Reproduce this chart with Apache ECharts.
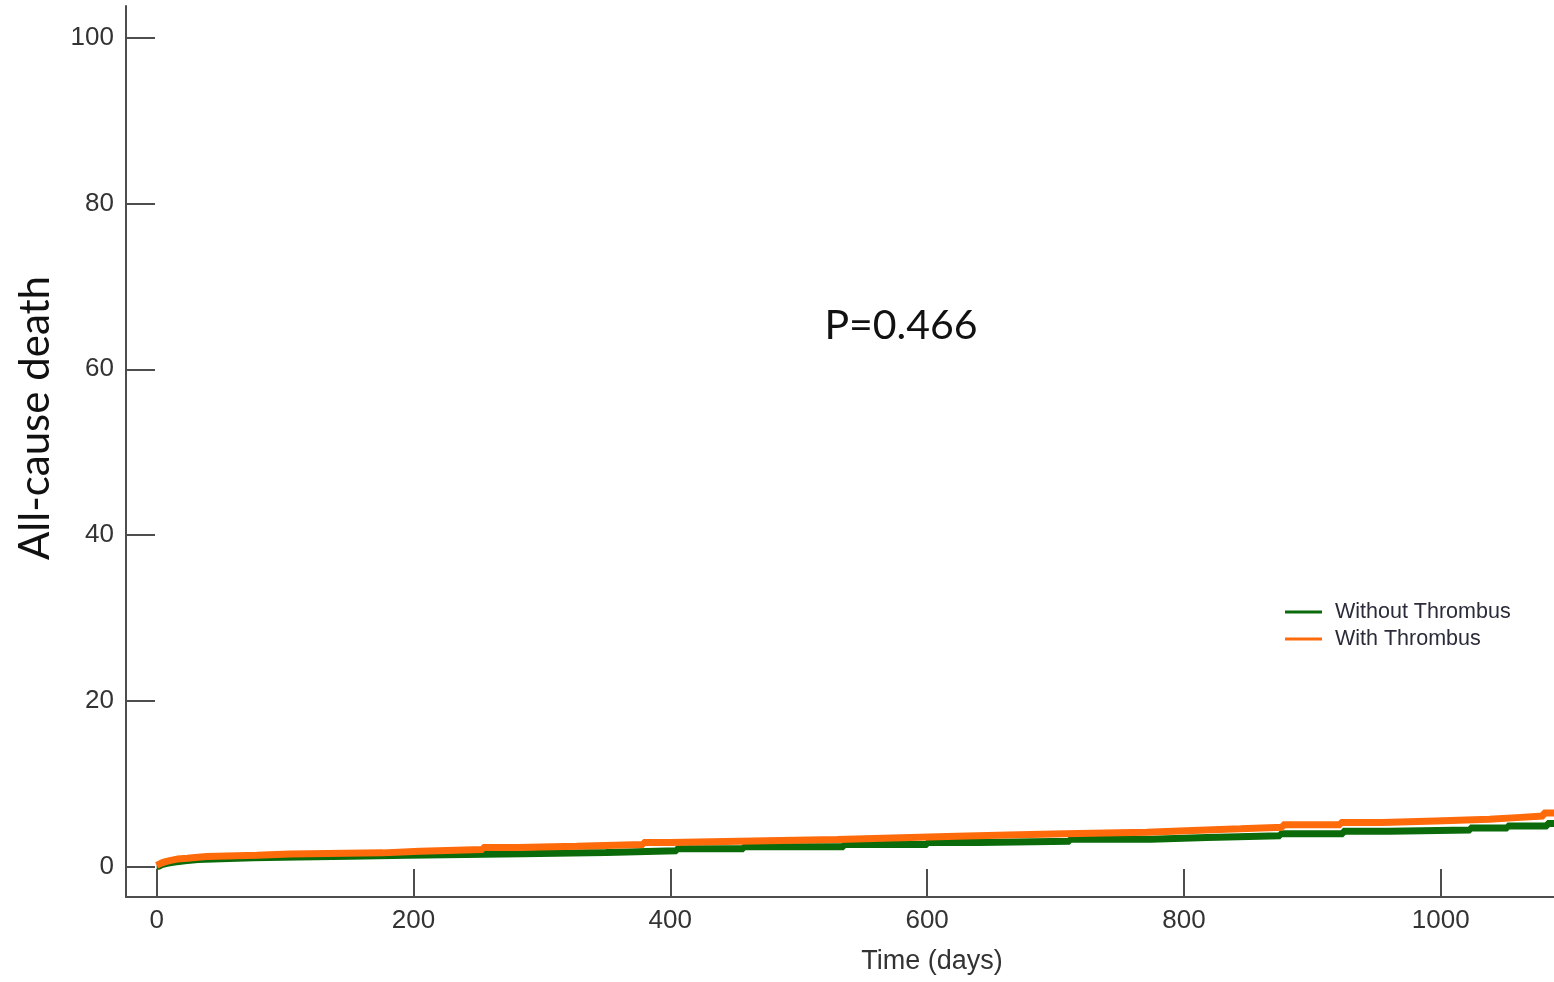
<!DOCTYPE html>
<html>
<head>
<meta charset="utf-8">
<script src="https://cdn.jsdelivr.net/npm/echarts@6/dist/echarts.min.js"></script>
<style>
  html, body { margin: 0; padding: 0; background: #fff; }
  #chart { width: 1554px; height: 982px; }
</style>
</head>
<body>
<div id="chart"></div>
<script>
// Cumulative all-cause death (%) over follow-up, by thrombus status
const seriesNames = ['Without Thrombus', 'With Thrombus'];

const withoutDays = [0, 2, 4, 8, 14, 22, 32, 50, 75, 110, 150, 195, 240, 285, 350, 405, 457, 535, 600, 640, 711, 774, 818, 875, 924, 960, 1023, 1052, 1083, 1090];
const withoutValues = [0.1, 0.3, 0.45, 0.6, 0.75, 0.9, 1.0, 1.1, 1.2, 1.3, 1.4, 1.5, 1.6, 1.75, 1.95, 2.2, 2.45, 2.7, 2.95, 3.1, 3.35, 3.55, 3.75, 4.0, 4.3, 4.45, 4.7, 4.95, 5.25, 5.25];

const withDays = [0, 1, 2, 4, 7, 11, 16, 24, 30, 39, 78, 104, 176, 205, 254, 281, 327, 379, 400, 454, 530, 573, 623, 663, 707, 771, 807, 844, 877, 922, 954, 996, 1038, 1059, 1080, 1090];
const withValues = [0.2, 0.35, 0.5, 0.65, 0.8, 0.95, 1.05, 1.15, 1.25, 1.4, 1.55, 1.7, 1.9, 2.1, 2.35, 2.5, 2.7, 2.95, 3.1, 3.3, 3.5, 3.7, 3.85, 4.0, 4.2, 4.4, 4.6, 4.8, 5.1, 5.35, 5.55, 5.75, 5.95, 6.15, 6.5, 6.5];

const xTicks = [0, 200, 400, 600, 800, 1000];
const yTicks = [0, 20, 40, 60, 80, 100];
const pValueText = 'P=0.466';

const colors = { without: '#0b6b0b', with: '#ff6a0a' };
const axisGray = '#4d4d4d';
const labelFont = 'Liberation Sans, Arial, sans-serif';
const noteFont = 'Lato, Open Sans, sans-serif';

const pairs = (xs, ys) => xs.map((x, i) => [x, ys[i]]);

const chart = echarts.init(document.getElementById('chart'), null, { renderer: 'canvas' });

chart.setOption({
  backgroundColor: '#ffffff',
  animation: false,
  grid: { left: 126, right: 0, top: 6, bottom: 85, containLabel: false },
  xAxis: {
    type: 'value',
    min: -23.9,
    max: 1088.2,
    splitLine: { show: false },
    axisLine: { onZero: false, lineStyle: { color: axisGray, width: 2 } },
    axisTick: { inside: true, length: 28, customValues: xTicks, lineStyle: { color: axisGray, width: 2 } },
    axisLabel: {
      customValues: xTicks, margin: 11, fontSize: 26, color: '#333', fontFamily: labelFont,
      formatter: v => String(v)
    }
  },
  yAxis: {
    type: 'value',
    min: -3.62,
    max: 103.8,
    splitLine: { show: false },
    axisLine: { show: true, onZero: false, lineStyle: { color: axisGray, width: 2 } },
    axisTick: { show: true, inside: true, length: 29, customValues: yTicks, lineStyle: { color: axisGray, width: 2 } },
    axisLabel: { customValues: yTicks, margin: 12, fontSize: 26, color: '#333', fontFamily: labelFont }
  },
  legend: {
    orient: 'vertical',
    left: 1285,
    top: 601,
    padding: 0,
    itemGap: 5,
    itemWidth: 37,
    itemHeight: 3,
    icon: 'rect',
    data: seriesNames,
    textStyle: { fontSize: 21.5, color: '#2b2b3a', fontFamily: labelFont, padding: [0, 0, 0, 8] }
  },
  series: [
    {
      name: seriesNames[0],
      type: 'line',
      step: 'end',
      showSymbol: false,
      symbol: 'none',
      color: colors.without,
      lineStyle: { width: 7, color: colors.without },
      data: pairs(withoutDays, withoutValues),
      z: 2
    },
    {
      name: seriesNames[1],
      type: 'line',
      step: 'end',
      showSymbol: false,
      symbol: 'none',
      color: colors.with,
      lineStyle: { width: 7, color: colors.with },
      data: pairs(withDays, withValues),
      z: 3
    }
  ],
  graphic: [
    {
      type: 'text',
      x: 35, y: 418,
      rotation: Math.PI / 2,
      style: { text: 'All-cause death', font: '42px ' + noteFont, fill: '#111', align: 'center', verticalAlign: 'middle' }
    },
    {
      type: 'text',
      x: 901, y: 326,
      style: { text: pValueText, font: '41px ' + noteFont, fill: '#111', align: 'center', verticalAlign: 'middle' }
    },
    {
      type: 'text',
      x: 932, y: 962,
      style: { text: 'Time (days)', font: '27px ' + labelFont, fill: '#333', align: 'center', verticalAlign: 'middle' }
    }
  ]
});
</script>
</body>
</html>
